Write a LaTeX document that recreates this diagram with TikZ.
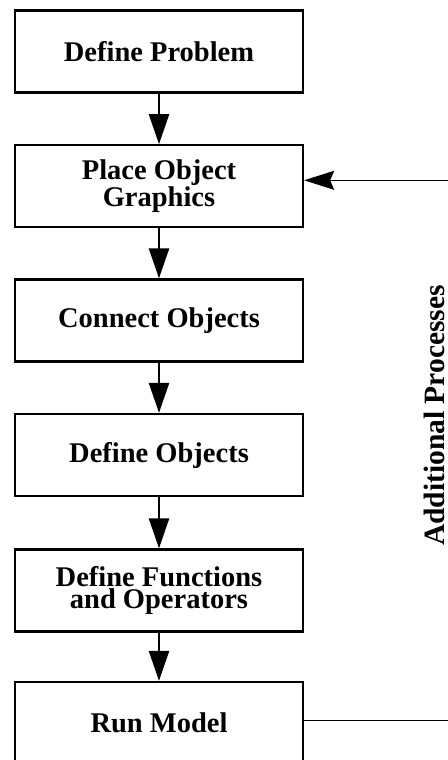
\documentclass[tikz,border=0pt]{standalone}
\usepackage{fontspec}
\setmainfont{Liberation Serif}
\usepackage{xcolor}
\usepackage{tikz}
\usetikzlibrary{arrows.meta, calc}

\begin{document}
\begin{tikzpicture}[x=1pt, y=-1pt,
    stepbox/.style={rectangle, draw, line width=2.3pt, minimum width=288pt, minimum height=82pt,
      align=center, inner sep=0pt, font=\fontsize{28.5pt}{21.5pt}\selectfont\bfseries},
    flow/.style={line width=2.5pt, -{Triangle[length=30pt, width=20pt]}},
    loop/.style={line width=1pt, -{Stealth[length=30pt, width=19pt, inset=4pt]}}]
          \useasboundingbox (0,0) rectangle (447,760);

          \node[stepbox] (prob) at (159,51.5) {Define Problem};
          \node[stepbox] (place) at (159,186.3) {Place Object\\Graphics};
          \node[stepbox] (conn) at (159,320.5) {Connect Objects};
          \node[stepbox] (objs) at (159,455) {Define Objects};
          \node[stepbox] (funcs) at (159,590.5) {Define Functions\\and Operators};
          \node[stepbox] (run) at (159,723) {Run Model};

          \draw[flow] (prob) -- (place);
          \draw[flow] (place) -- (conn);
          \draw[flow] (conn) -- (objs);
          \draw[flow] (objs) -- (funcs);
          \draw[flow] (funcs) -- (run);

          % loop back, its upright part lies past the right edge
          \coordinate (back) at (470,720);
          \draw[loop] ([yshift=3pt]run.east) -- (back) |- ([yshift=6pt]place.east);

          \node[rotate=90, inner sep=0pt, font=\fontsize{29.5pt}{30pt}\selectfont\bfseries] (extra) at (434,415.5) {Additional Processes};
        \end{tikzpicture}
\end{document}
